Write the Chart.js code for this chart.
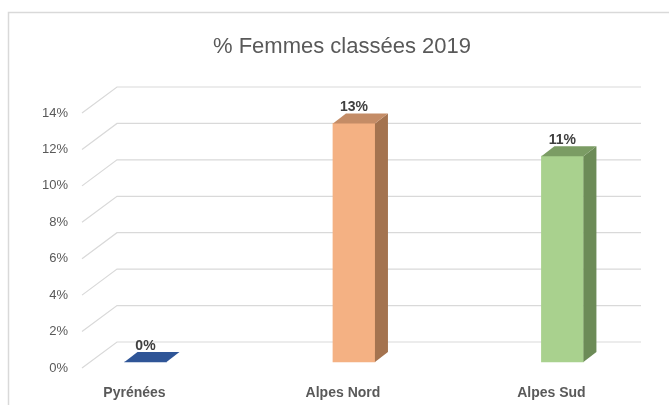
<!DOCTYPE html>
<html>
<head>
    <meta charset="UTF-8">
    <title>% Femmes classées 2019</title>
    <script src="https://cdn.jsdelivr.net/npm/chart.js@4/dist/chart.umd.min.js"></script>
    <style>
        html, body { margin: 0; padding: 0; background: #fff; }
        #wrap { width: 669px; height: 405px; }
    </style>
</head>
<body>
    <div id="wrap"><canvas id="myChart"></canvas></div>
    <script>
        // data
        var categories = ['Pyrénées', 'Alpes Nord', 'Alpes Sud'];
        var womenShare = [0, 0.131, 0.113];
        var yTicks = [0, 0.02, 0.04, 0.06, 0.08, 0.10, 0.12, 0.14];

        // colours (front, top, side)
        var frontColors = ['#2f5597', '#f4b183', '#a9d18e'];
        var topColors = ['#2f5597', '#c48c66', '#7b9c64'];
        var sideColors = ['#24447a', '#a4734f', '#6c8b57'];

        var textGray = '#595959';
        var gridGray = '#d9d9d9';

        // 3d look: grid depth and bar depth
        var gridDX = 35, gridDY = -26;
        var gridRightGap = 28;
        var barShiftX = 11, barShiftY = -6;
        var depthX = 13, depthY = -10;

        var pct = v => Math.round(v * 100) + '%';

        const threeD = {
            id: 'threeD',
            beforeDraw(chart) {
                const ctx = chart.ctx;
                const area = chart.chartArea;
                ctx.save();
                // outer frame
                ctx.strokeStyle = gridGray;
                ctx.lineWidth = 1.5;
                ctx.beginPath();
                ctx.moveTo(8.5, 405);
                ctx.lineTo(8.5, 12.5);
                ctx.lineTo(669, 12.5);
                ctx.stroke();
                // grid: diagonal on the side wall + back wall line
                const ys = chart.scales.y;
                ctx.lineWidth = 1.2;
                ys.ticks.forEach(t => {
                    const y = ys.getPixelForValue(t.value);
                    ctx.beginPath();
                    ctx.moveTo(area.left, y);
                    ctx.lineTo(area.left + gridDX, y + gridDY);
                    ctx.lineTo(area.right - gridRightGap, y + gridDY);
                    ctx.stroke();
                });
                ctx.restore();
            },
            beforeDatasetsDraw(chart) {
                chart.ctx.save();
                chart.ctx.translate(barShiftX, barShiftY);
            },
            afterDatasetsDraw(chart) {
                const ctx = chart.ctx;
                const meta = chart.getDatasetMeta(0);
                meta.data.forEach((bar, i) => {
                    const p = bar.getProps(['x', 'y', 'base', 'width'], true);
                    const l = p.x - p.width / 2, r = p.x + p.width / 2;
                    // side face
                    ctx.fillStyle = sideColors[i];
                    ctx.beginPath();
                    ctx.moveTo(r, p.y);
                    ctx.lineTo(r + depthX, p.y + depthY);
                    ctx.lineTo(r + depthX, p.base + depthY);
                    ctx.lineTo(r, p.base);
                    ctx.closePath();
                    ctx.fill();
                    // top face
                    ctx.fillStyle = topColors[i];
                    ctx.beginPath();
                    ctx.moveTo(l, p.y);
                    ctx.lineTo(r, p.y);
                    ctx.lineTo(r + depthX, p.y + depthY);
                    ctx.lineTo(l + depthX, p.y + depthY);
                    ctx.closePath();
                    ctx.fill();
                    // value label
                    ctx.fillStyle = '#404040';
                    ctx.font = 'bold 14px "Liberation Sans", Arial, sans-serif';
                    ctx.textAlign = 'center';
                    ctx.textBaseline = 'bottom';
                    ctx.fillText(pct(womenShare[i]), p.x, p.y + depthY + 1);
                });
                ctx.restore();
            }
        };

        const data = {
            datasets: [{
                label: '% Femmes classées 2019',
                data: categories.map((c, i) => ({ x: i, y: womenShare[i] })),
                backgroundColor: frontColors,
                borderWidth: 0,
                barThickness: 42,
                clip: false
            }]
        };

        const config = {
            type: 'bar',
            data,
            plugins: [threeD],
            options: {
                responsive: true,
                maintainAspectRatio: false,
                animation: false,
                layout: { padding: { left: 15, right: 0, top: 0, bottom: 0 } },
                plugins: {
                    legend: { display: false },
                    tooltip: { enabled: false },
                    title: {
                        display: true,
                        text: '% Femmes classées 2019',
                        color: textGray,
                        font: { family: '"Liberation Sans", Arial, sans-serif', size: 22, weight: 'normal' },
                        padding: { top: 34, bottom: 52.6 }
                    }
                },
                scales: {
                    x: {
                        type: 'linear',
                        offset: false,
                        min: -0.2518,
                        max: 2.564,
                        grid: { display: false },
                        border: { display: false },
                        afterBuildTicks: s => { s.ticks = categories.map((c, i) => ({ value: i })); },
                        afterFit: s => { s.height = 37; },
                        ticks: {
                            autoSkip: false,
                            maxRotation: 0,
                            padding: 9,
                            color: textGray,
                            font: { family: '"Liberation Sans", Arial, sans-serif', size: 14, weight: 'bold' },
                            callback: v => categories[v]
                        }
                    },
                    y: {
                        min: 0,
                        max: 0.14,
                        grid: { display: false, drawTicks: false },
                        border: { display: false },
                        afterBuildTicks: s => { s.ticks = yTicks.map(v => ({ value: v })); },
                        afterFit: s => { s.width = 67; },
                        ticks: {
                            padding: 14,
                            color: textGray,
                            font: { family: '"Liberation Sans", Arial, sans-serif', size: 13 },
                            callback: v => pct(v)
                        }
                    }
                }
            }
        };

        var myChart = new Chart(document.getElementById('myChart'), config);
    </script>
</body>
</html>
